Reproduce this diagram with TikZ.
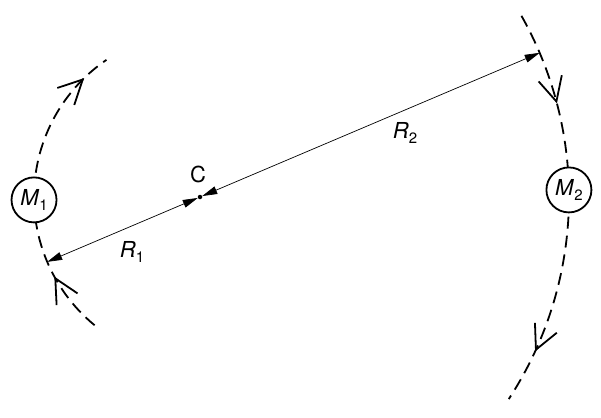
\documentclass[tikz,border=0pt]{standalone}
\usepackage{fontspec}
\setmainfont{TeX Gyre Heros}
\usetikzlibrary{arrows.meta,decorations.markings,calc}
\tikzset{
  orbit/.style={line width=1.8pt,dash pattern=on 12pt off 7pt},
  chev/.style={postaction={decorate,decoration={markings,
     mark=at position #1 with {\draw[solid,line width=1.8pt,line join=miter] (-24pt,12pt) -- (0pt,0pt) -- (-24pt,-12pt);}}}},
  mass/.style={circle,draw,fill=white,line width=1.8pt,minimum size=45pt,inner sep=0pt},
  radius line/.style={line width=0.7pt,{Triangle[length=15pt,width=8pt]}-{Triangle[length=15pt,width=8pt]}},
  lbl/.style={font=\fontsize{22}{26}\selectfont}
}
\newcommand{\lab}[2]{\textit{#1}\raisebox{-5pt}{\fontsize{15}{15}\selectfont #2}}
\begin{document}
\begin{tikzpicture}[x=1pt,y=1pt]
\useasboundingbox (0,0) rectangle (601,-417);
\coordinate (C) at (200,-197);
% left orbit
\draw[orbit,chev=0.2,chev=0.9] ($(C)+(230.6:166)$) arc[start angle=230.6,end angle=124.3,radius=166];
% right orbit
\draw[orbit,chev=0.23,chev=0.86] ($(C)+(29.4:369)$) arc[start angle=29.4,end angle=-33.2,radius=369];
\node[mass,lbl] (m1) at ($(C)+(181:166)$) {\lab{M}{1}};
\node[mass,lbl] (m2) at ($(C)+(1.1:369)$) {\lab{M}{2}};
\coordinate (t1) at ($(C)+(203:166)$);
\coordinate (t2) at ($(C)+(23:369)$);
\node[circle,fill,inner sep=0pt,minimum size=4.5pt] (c) at (C) {};
\draw[radius line] (t1) -- (c);
\draw[radius line] (c) -- (t2);
\node[lbl] (cl) at (198,-174) {C};
\node[lbl] (r1) at (132,-252) {\lab{R}{1}};
\node[lbl] (r2) at (405,-133) {\lab{R}{2}};
\end{tikzpicture}
\end{document}
